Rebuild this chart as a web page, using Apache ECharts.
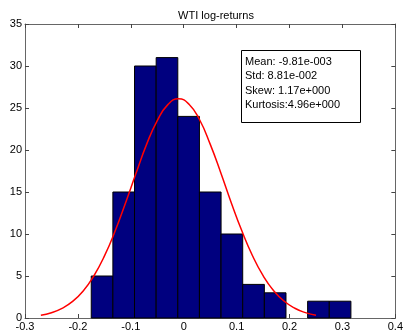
<!DOCTYPE html>
<html><head><meta charset="utf-8">
<script src="https://cdn.jsdelivr.net/npm/echarts@6/dist/echarts.min.js"></script>
<style>html,body{margin:0;padding:0;background:#fff}#c{width:406px;height:334px}</style>
</head><body><div id="c"></div>
<script>
// Histogram bins (left edges) and counts
var binStart = -0.1748;
var binWidth = 0.0409;
var counts = [5, 15, 30, 31, 24, 15, 10, 4, 3, 0, 2, 2];
// Fitted normal curve
var curveX = [-0.27,-0.25,-0.23,-0.21,-0.19,-0.17,-0.15,-0.13,-0.11,-0.09,-0.07,-0.05,-0.03,-0.01,0.01,0.03,0.05,0.07,0.09,0.11,0.13,0.15,0.17,0.19,0.21,0.23,0.25];
var curveY = [0.33,0.63,1.15,1.97,3.22,5.0,7.36,10.3,13.7,17.25,20.7,23.5,25.4,26.1,25.45,23.6,20.7,17.3,13.7,10.35,7.41,5.04,3.25,1.99,1.16,0.64,0.34];
var xTicks = ['-0.3','-0.2','-0.1','0','0.1','0.2','0.3','0.4'];
var yTicks = ['0','5','10','15','20','25','30','35'];
var statsLines = ['Mean: -9.81e-003','Std: 8.81e-002','Skew: 1.17e+000','Kurtosis:4.96e+000'];

var bars = counts.map(function(c,i){ return [binStart + i*binWidth, binStart + (i+1)*binWidth, c]; }).filter(function(d){return d[2]>0;});
var curve = curveX.map(function(x,i){return [x, curveY[i]];});

var font = 'Liberation Sans, Arial, sans-serif';
var chart = echarts.init(document.getElementById('c'), null, {renderer:'canvas'});
var axisLine = {show:true, onZero:false, lineStyle:{color:'#666', width:1}};
var tick = {show:true, inside:true, length:4, lineStyle:{color:'#444'}};
chart.setOption({
  animation:false,
  backgroundColor:'#fff',
  title:{text:'WTI log-returns', left:211, top:5, textAlign:'center',
    textStyle:{fontFamily:font, fontSize:11, fontWeight:'normal', color:'#000'}},
  grid:{left:25, right:9, top:24, bottom:16, containLabel:false},
  xAxis:[{type:'value', min:-0.3, max:0.4, interval:0.1, position:'bottom',
    axisLine:axisLine, axisTick:tick, splitLine:{show:false},
    axisLabel:{fontFamily:font, fontSize:11, color:'#000', margin:3, showMinLabel:true, showMaxLabel:true,
      formatter:function(v){ return xTicks[Math.round((v+0.3)*10)]; }}},
    {type:'value', min:-0.3, max:0.4, interval:0.1, position:'top',
    axisLine:axisLine, axisTick:tick, axisLabel:{show:false}, splitLine:{show:false}}],
  yAxis:[{type:'value', min:0, max:35, interval:5, position:'left',
    axisLine:axisLine, axisTick:tick, splitLine:{show:false},
    axisLabel:{fontFamily:font, fontSize:11, color:'#000', margin:3,
      formatter:function(v){ return yTicks[Math.round(v/5)]; }}},
    {type:'value', min:0, max:35, interval:5, position:'right',
    axisLine:axisLine, axisTick:tick, axisLabel:{show:false}, splitLine:{show:false}}],
  series:[
    {type:'custom', xAxisIndex:0, yAxisIndex:0, data:bars,
      renderItem:function(params, api){
        var p0 = api.coord([api.value(0), api.value(2)]);
        var p1 = api.coord([api.value(1), 0]);
        return {type:'rect', shape:{x:p0[0], y:p0[1], width:p1[0]-p0[0], height:p1[1]-p0[1]},
          style:{fill:'#00007f', stroke:'#000', lineWidth:1}};
      }, z:2},
    {type:'line', xAxisIndex:0, yAxisIndex:0, data:curve, smooth:true, symbol:'none',
      lineStyle:{color:'#ff0000', width:1.5}, z:3}
  ],
  graphic:[
    {type:'rect', shape:{x:241.5, y:50.5, width:119, height:72}, style:{fill:'#fff', stroke:'#000', lineWidth:1}, z:10},
    {type:'text', left:245, top:54.5, z:11,
      style:{text:statsLines.join('\n'), fontFamily:font, fontSize:11, lineHeight:14.5, fill:'#000'}}
  ]
});
</script></body></html>
